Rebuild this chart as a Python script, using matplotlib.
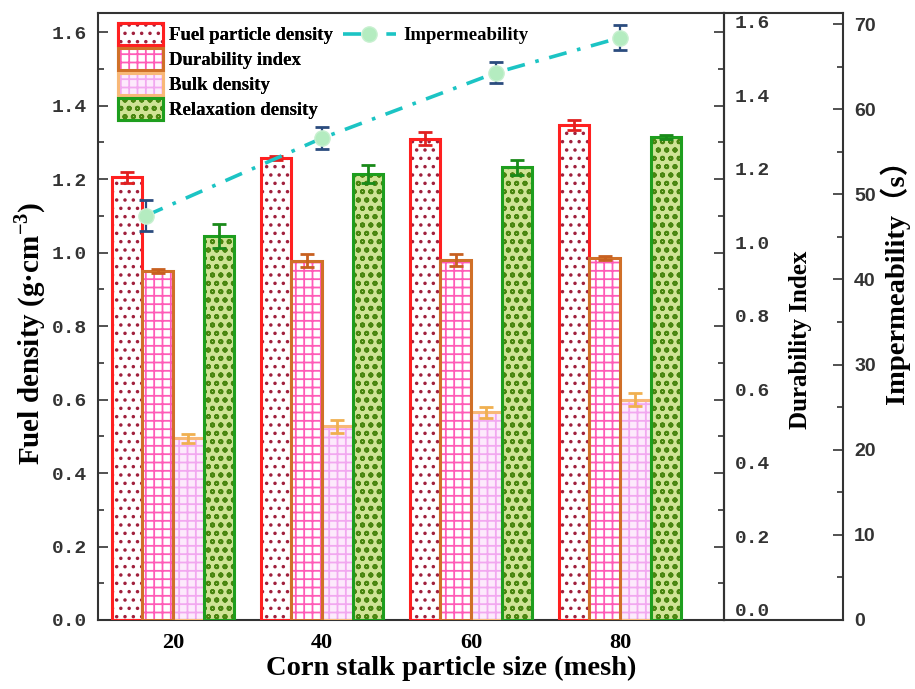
import numpy as np
import matplotlib
matplotlib.use('Agg')
import matplotlib.pyplot as plt
import matplotlib.patches as mpatches
from matplotlib.lines import Line2D
from matplotlib.ticker import MultipleLocator

# ---------------- data ----------------
categories = ['20', '40', '60', '80']
fuel_particle = [1.205, 1.257, 1.31, 1.347]
fuel_particle_err = [0.015, 0.006, 0.018, 0.014]
durability = [0.95, 0.978, 0.98, 0.985]
durability_err = [0.005, 0.018, 0.016, 0.005]
bulk = [0.495, 0.527, 0.565, 0.6]
bulk_err = [0.012, 0.018, 0.014, 0.018]
relaxation = [1.045, 1.214, 1.232, 1.314]
relaxation_err = [0.032, 0.025, 0.02, 0.005]
imperm = [47.5, 56.6, 64.3, 68.4]
imperm_err = [1.8, 1.3, 1.2, 1.5]

# ---------------- style ----------------
plt.rcParams['hatch.linewidth'] = 1.3
plt.rcParams['mathtext.fontset'] = 'custom'
plt.rcParams['mathtext.rm'] = 'Liberation Serif:bold'
plt.rcParams['mathtext.bf'] = 'Liberation Serif:bold'
SERIF = 'Liberation Serif'
MONO = 'Liberation Mono'
SPINE = '#333333'

fig = plt.figure(figsize=(9.15, 6.89), dpi=100)
L, R, B, T = 98 / 915, 724 / 915, 1 - 620 / 689, 1 - 13 / 689
ax = fig.add_axes([L, B, R - L, T - B])
ax2 = ax.twinx()
ax3 = ax.twinx()
ax3.spines['right'].set_position(('axes', 745 / 626))

x = np.arange(len(categories))
w = 0.205
offs = (np.arange(4) - 1.5) * w

series = [
    # values, err, axis, face, hatch, hatchcolor, edge, errcolor
    (fuel_particle, fuel_particle_err, ax, 'white', '..', '#a0203c', '#ff2020', '#e02020'),
    (durability, durability_err, ax2, 'white', '++', '#ff5cb8', '#d07028', '#c86020'),
    (bulk, bulk_err, ax, '#fdeafc', '++', '#f2a8f0', '#f8b878', '#f0b050'),
    (relaxation, relaxation_err, ax, '#cfe395', 'oo', '#4a8610', '#1e9e1e', '#1a8a1a'),
]
handles = []
for (vals, errs, a, face, hatch, hc, ec, erc), off in zip(series, offs):
    a.bar(x + off, vals, w, color=face, hatch=hatch, edgecolor=hc, linewidth=0, zorder=2)
    a.bar(x + off, vals, w, fill=False, edgecolor=ec, linewidth=2.2, zorder=3)
    a.errorbar(x + off, vals, yerr=errs, fmt='none', ecolor=erc, elinewidth=2,
               capsize=5, capthick=2, zorder=4)
    h1 = mpatches.Patch(facecolor=face, hatch=hatch, edgecolor=hc, linewidth=0)
    h2 = mpatches.Patch(fill=False, edgecolor=ec, linewidth=2.2)
    handles.append((h1, h2))

imp_shift = np.array([-0.18, 0.0, 0.17, 0.0])
ax3.errorbar(x + imp_shift, imperm, yerr=imperm_err, fmt='none', ecolor='#2b4c7e',
             elinewidth=1.6, capsize=5, capthick=2, zorder=5)
imp_line, = ax3.plot(x + imp_shift, imperm, color='#1cc4c4', lw=2.6,
                     linestyle=(0, (5, 3, 1, 3)), marker='o', markersize=11,
                     markerfacecolor='#b4ecc0', markeredgecolor='#c8f0d0', zorder=6)

# ---------------- axes ----------------
ax.set_xlim(-0.503, 3.698)
ax.set_ylim(0, 1.652)
ax2.set_ylim(0, 1.652)
ax3.set_ylim(0, 71.3)
ax.set_xticks(x)
ax.set_xticklabels(categories, fontfamily=SERIF, fontweight='bold', fontsize=16)
ax.tick_params(axis='x', length=0, pad=9)

ticks = np.arange(0, 1.61, 0.2)
ax.yaxis.set_minor_locator(MultipleLocator(0.1))
ax.set_yticks(ticks)
ax.set_yticklabels([f'{v:.1f}' for v in ticks],
                   fontfamily=MONO, fontweight='bold', fontsize=14, color='#222222')
ax.tick_params(axis='y', which='major', direction='in', length=7, width=1.2, colors=SPINE, pad=8)
ax.tick_params(axis='y', which='minor', direction='in', length=4, width=1.2, colors=SPINE)

ax2.set_yticks(ticks)
ax2.yaxis.set_minor_locator(MultipleLocator(0.1))
ax2.set_yticklabels([f'{v:.1f}' for v in ticks],
                    fontfamily=MONO, fontweight='bold', fontsize=14, color='#222222')
for lab in ax2.get_yticklabels():
    lab.set_verticalalignment('bottom')
ax2.tick_params(axis='y', which='major', direction='in', length=7, width=1.2, colors=SPINE, pad=8)
ax2.tick_params(axis='y', which='minor', direction='in', length=4, width=1.2, colors=SPINE)

ax3.set_yticks(np.arange(0, 71, 10))
ax3.yaxis.set_minor_locator(MultipleLocator(5))
ax3.set_yticklabels([str(v) for v in range(0, 71, 10)],
                    fontfamily='Liberation Sans', fontweight='bold', fontsize=14, color='#222222')
ax3.tick_params(axis='y', which='major', direction='in', length=7, width=1.2, colors=SPINE, pad=8)
ax3.tick_params(axis='y', which='minor', direction='in', length=4, width=1.2, colors=SPINE)

for a in (ax, ax2, ax3):
    for s in a.spines.values():
        s.set_color(SPINE)
        s.set_linewidth(1.5)
for a in (ax2, ax3):
    a.spines['left'].set_visible(False)
    a.spines['top'].set_visible(False)
    a.spines['bottom'].set_visible(False)

# extend the frame to the outer axis
for yy in (0, 1):
    ax.add_line(Line2D([1, 745 / 626], [yy, yy], transform=ax.transAxes,
                       color=SPINE, lw=1.5, clip_on=False))

ax.set_xlabel('Corn stalk particle size (mesh)', fontfamily=SERIF, fontweight='bold', fontsize=20.5)
ax.xaxis.set_label_coords(353 / 626, -48 / 607)
ax.xaxis.label.set_verticalalignment('center')

ax.set_ylabel('Fuel density (g·cm$^{-3}$)', fontfamily=SERIF, fontweight='bold', fontsize=21)
ax.yaxis.set_label_coords(-68 / 626, 1 - 320 / 607)
ax.yaxis.label.set_verticalalignment('center')

ax2.set_ylabel('Durability Index', fontfamily=SERIF, fontweight='bold', fontsize=18)
ax2.yaxis.set_label_coords(702 / 626, 1 - 327 / 607)
ax2.yaxis.label.set_verticalalignment('center')

ax3.set_ylabel('Impermeability（s）', family=[SERIF, 'Noto Sans CJK SC'], fontweight='bold',
               fontsize=20.5)
ax3.yaxis.set_label_coords(797 / 626, 1 - 262 / 607)
ax3.yaxis.label.set_verticalalignment('center')

# ---------------- legends ----------------
labels = ['Fuel particle density', 'Durability index', 'Bulk density', 'Relaxation density']
leg = ax.legend(handles, labels, loc='upper left', bbox_to_anchor=(20 / 626, 1 - 10 / 607),
                frameon=False, handlelength=2.4, handleheight=1.4, labelspacing=0.18,
                handletextpad=0.3, borderpad=0, borderaxespad=0,
                prop={'family': SERIF, 'weight': 'bold', 'size': 13.5})
ax.add_artist(leg)
ax3.legend([imp_line], ['Impermeability'], loc='upper left',
           bbox_to_anchor=(245 / 626, 1 - 14 / 607), frameon=False, handlelength=2.8,
           handletextpad=0.4, borderpad=0, borderaxespad=0,
           prop={'family': SERIF, 'weight': 'bold', 'size': 13.5})

fig.savefig('out.png', dpi=100)
